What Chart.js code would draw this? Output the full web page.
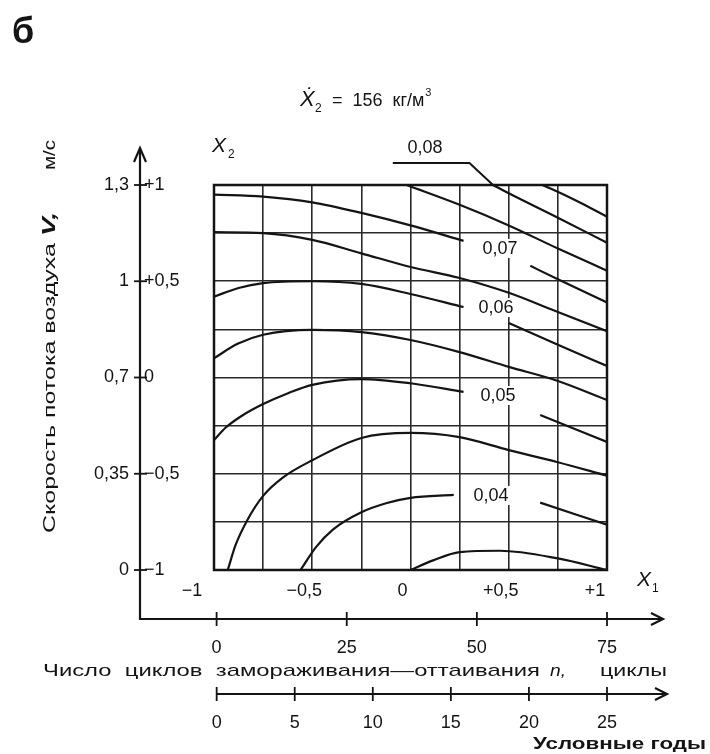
<!DOCTYPE html>
<html>
<head>
<meta charset="utf-8">
<script src="https://cdn.jsdelivr.net/npm/chart.js@4.4.1/dist/chart.umd.min.js"></script>
<style>
  html, body { margin: 0; padding: 0; background: #fff; }
  canvas { display: block; }
</style>
</head>
<body>
<canvas id="chart" width="710" height="754"></canvas>
<script>
// Contour plot of a response surface in coded factors X1 (cycles) and X3 (air speed),
// X2 fixed at 156 kg/m3. Points are [X1, X2-axis value], null = gap for a level label.

const x1Ticks = [-1, -0.5, 0, 0.5, 1];
const x1Labels = ["−1", "−0,5", "0", "+0,5", "+1"];
const x2Ticks = [1, 0.5, 0, -0.5, -1];
const x2Labels = ["+1", "+0,5", "0", "−0,5", "−1"];
const speedLabels = ["1,3", "1", "0,7", "0,35", "0"];
const cycleTicks = [0, 25, 50, 75];
const yearTicks = [0, 5, 10, 15, 20, 25];

const level085 = [[0.67, 1], [0.76, 0.96], [0.88, 0.9], [1, 0.835]];
const level08 = [[0.42, 1], [0.5, 0.957], [0.75, 0.83], [1, 0.70]];
const level075 = [[-0.02, 1], [0.25, 0.897], [0.5, 0.79], [0.75, 0.67], [1, 0.555]];
const level07 = [[-1, 0.95], [-0.75, 0.94], [-0.5, 0.91], [-0.25, 0.855], [0, 0.79], [0.27, 0.71],
  null, [0.61, 0.58], [0.75, 0.51], [1, 0.39]];
const level065 = [[-1, 0.755], [-0.75, 0.75], [-0.5, 0.715], [-0.25, 0.645], [0, 0.574], [0.25, 0.517],
  [0.5, 0.44], [0.75, 0.34], [1, 0.24]];
const level06 = [[-1, 0.42], [-0.875, 0.465], [-0.75, 0.49], [-0.5, 0.50], [-0.25, 0.486], [0, 0.434],
  [0.27, 0.366], null, [0.5, 0.283], [0.75, 0.17], [1, 0.06]];
const level055 = [[-1, 0.10], [-0.88, 0.175], [-0.75, 0.222], [-0.5, 0.247], [-0.25, 0.236], [0, 0.195],
  [0.25, 0.132], [0.5, 0.055], [0.75, -0.018], [1, -0.117]];
const level05 = [[-1, -0.325], [-0.94, -0.26], [-0.86, -0.2], [-0.75, -0.138], [-0.62, -0.08],
  [-0.5, -0.038], [-0.25, -0.008], [0, -0.03], [0.27, -0.075], null, [0.66, -0.195], [1, -0.335]];
const level045 = [[-0.93, -1], [-0.89, -0.87], [-0.83, -0.74], [-0.75, -0.615], [-0.65, -0.52],
  [-0.5, -0.43], [-0.25, -0.314], [0, -0.288], [0.25, -0.31], [0.5, -0.377], [0.75, -0.44], [1, -0.51]];
const level04 = [[-0.56, -1], [-0.48, -0.88], [-0.395, -0.79], [-0.25, -0.70], [-0.12, -0.652],
  [0, -0.625], [0.22, -0.61], null, [0.66, -0.65], [1, -0.765]];
const level035 = [[0, -1], [0.115, -0.95], [0.25, -0.907], [0.455, -0.9], [0.75, -0.94], [1, -1]];

const levels = [level085, level08, level075, level07, level065, level06, level055, level05, level045, level04, level035];

// level labels, placed in data coordinates
const levelLabelText = ["0,08", "0,07", "0,06", "0,05", "0,04"];
const levelLabelX = [0.074, 0.455, 0.435, 0.445, 0.41];
const levelLabelY = [1.197, 0.673, 0.366, -0.091, -0.61];

const INK = "#141414";
const FONT = '"Liberation Sans", Arial, sans-serif';

function fitText(ctx, str, x0, x1, y, font) {
  ctx.font = font;
  const w = ctx.measureText(str).width;
  ctx.save();
  ctx.translate(x0, y);
  ctx.scale((x1 - x0) / w, 1);
  ctx.textAlign = "left";
  ctx.fillText(str, 0, 0);
  ctx.restore();
}

function line(ctx, pts) {
  ctx.beginPath();
  ctx.moveTo(pts[0][0], pts[0][1]);
  for (let i = 1; i < pts.length; i++) ctx.lineTo(pts[i][0], pts[i][1]);
  ctx.stroke();
}

const decor = {
  id: "decor",
  beforeDatasetsDraw(chart) {
    const { ctx, chartArea: a } = chart;
    ctx.save();
    ctx.strokeStyle = INK;
    ctx.lineWidth = 2.5;
    ctx.strokeRect(a.left, a.top, a.right - a.left, a.bottom - a.top);
    ctx.restore();
  },
  afterDraw(chart) {
    const { ctx, scales } = chart;
    const sx = scales.x, sy = scales.y, sc = scales.cycles, syr = scales.years;
    ctx.save();
    ctx.fillStyle = INK;
    ctx.strokeStyle = INK;
    ctx.lineCap = "butt";

    // level labels with white backing
    ctx.font = "18px " + FONT;
    ctx.textAlign = "center";
    ctx.textBaseline = "middle";
    levelLabelText.forEach((t, i) => {
      const px = sx.getPixelForValue(levelLabelX[i]);
      const py = sy.getPixelForValue(levelLabelY[i]);
      const w = ctx.measureText(t).width;
      ctx.fillStyle = "#fff";
      ctx.fillRect(px - w / 2 - 2, py - 9, w + 4, 19);
      ctx.fillStyle = INK;
      ctx.fillText(t, px, py + 1);
    });
    // leader for 0,08
    ctx.lineWidth = 2;
    line(ctx, [
      [sx.getPixelForValue(-0.09), sy.getPixelForValue(1.114)],
      [sx.getPixelForValue(0.30), sy.getPixelForValue(1.114)],
      [sx.getPixelForValue(0.42), sy.getPixelForValue(1.0)]
    ]);

    // X1 tick labels below the grid
    ctx.font = "18px " + FONT;
    ctx.textBaseline = "middle";
    x1Ticks.forEach((v, i) => {
      const shift = v === -1 ? -22 : (v === 1 ? -12 : -8);
      ctx.fillText(x1Labels[i], sx.getPixelForValue(v) + shift, 591);
    });

    // left double axis (air speed V / coded X3)
    const ax = 140;
    ctx.lineWidth = 2.2;
    line(ctx, [[ax, 620], [ax, 148]]);
    line(ctx, [[ax - 6, 162], [ax, 148], [ax + 6, 162]]);
    x2Ticks.forEach((v, i) => {
      const py = sy.getPixelForValue(v);
      ctx.lineWidth = 1.8;
      line(ctx, [[ax - 6, py], [ax + 7, py]]);
      ctx.textAlign = "right";
      ctx.fillText(speedLabels[i], ax - 11, py);
      ctx.textAlign = "left";
      ctx.fillText(x2Labels[i], ax + 4, py);
    });

    // cycles axis
    const cy = 619;
    ctx.lineWidth = 2.2;
    line(ctx, [[ax, cy], [663, cy]]);
    line(ctx, [[651, cy - 6], [663, cy], [651, cy + 6]]);
    ctx.textAlign = "center";
    ctx.textBaseline = "alphabetic";
    cycleTicks.forEach(v => {
      const px = sc.getPixelForValue(v);
      ctx.lineWidth = 1.8;
      line(ctx, [[px, cy - 7], [px, cy + 7]]);
      ctx.fillText(String(v), px, 653);
    });

    // years axis
    const yy = 694;
    ctx.lineWidth = 2.2;
    line(ctx, [[syr.getPixelForValue(0), yy], [667, yy]]);
    line(ctx, [[655, yy - 6], [667, yy], [655, yy + 6]]);
    yearTicks.forEach(v => {
      const px = syr.getPixelForValue(v);
      ctx.lineWidth = 1.8;
      line(ctx, [[px, yy - 7], [px, yy + 7]]);
      ctx.fillText(String(v), px, 728);
    });

    // axis titles
    ctx.textAlign = "left";
    fitText(ctx, "Число  циклов  замораживания—оттаивания", 43, 540, 676, "17px " + FONT);
    fitText(ctx, "n,", 550, 566, 676, "italic 17px " + FONT);
    fitText(ctx, "циклы", 600, 667, 676, "17px " + FONT);
    fitText(ctx, "Условные годы", 533, 706, 749, "bold 17px " + FONT);

    ctx.save();
    ctx.translate(55, 0);
    ctx.rotate(-Math.PI / 2);
    fitText(ctx, "Скорость потока воздуха", -533, -243, 0, "17px " + FONT);
    fitText(ctx, "V,", -236, -212, 0, "bold italic 18px " + FONT);
    fitText(ctx, "м/с", -170, -140, 0, "17px " + FONT);
    ctx.restore();

    // factor names
    ctx.font = "italic 21px " + FONT;
    ctx.fillText("X", 212, 152);
    ctx.font = "12px " + FONT;
    ctx.fillText("2", 228, 158);
    ctx.font = "italic 21px " + FONT;
    ctx.fillText("X", 637, 586);
    ctx.font = "12px " + FONT;
    ctx.fillText("1", 652, 592);

    // heading
    ctx.font = "italic 22px " + FONT;
    ctx.fillText("Ẋ", 300, 106);
    ctx.font = "12px " + FONT;
    ctx.fillText("2", 315, 112);
    ctx.font = "18px " + FONT;
    ctx.fillText("=  156  кг/м", 332, 106);
    const hw = ctx.measureText("=  156  кг/м").width;
    ctx.font = "11px " + FONT;
    ctx.fillText("3", 333 + hw, 96);

    ctx.font = "bold 36px " + FONT;
    ctx.fillText("б", 12, 43);
    ctx.restore();
  }
};

new Chart(document.getElementById("chart"), {
  type: "scatter",
  data: {
    datasets: levels.map(pts => ({
      data: pts.map(p => p ? { x: p[0], y: p[1] } : { x: null, y: null }),
      showLine: true,
      borderColor: INK,
      borderWidth: 2.2,
      pointRadius: 0,
      cubicInterpolationMode: "monotone",
      spanGaps: false
    }))
  },
  options: {
    responsive: false,
    animation: false,
    devicePixelRatio: 1,
    layout: { padding: { left: 214, right: 103, top: 185, bottom: 184 } },
    plugins: { legend: { display: false }, tooltip: { enabled: false } },
    scales: {
      x: {
        type: "linear", min: -1, max: 1,
        ticks: { display: false, stepSize: 0.25 },
        grid: { color: "#2a2a2a", lineWidth: 1.6, drawTicks: false },
        border: { display: false },
        afterFit(s) { s.height = 0; }
      },
      y: {
        type: "linear", min: -1, max: 1,
        ticks: { display: false, stepSize: 0.25 },
        grid: { color: "#2a2a2a", lineWidth: 1.6, drawTicks: false },
        border: { display: false },
        afterFit(s) { s.width = 0; }
      },
      cycles: { type: "linear", axis: "x", position: "bottom", min: -0.5, max: 75, display: false },
      years: { type: "linear", axis: "x", position: "bottom", min: -0.17, max: 25, display: false }
    }
  },
  plugins: [decor]
});
</script>
</body>
</html>
